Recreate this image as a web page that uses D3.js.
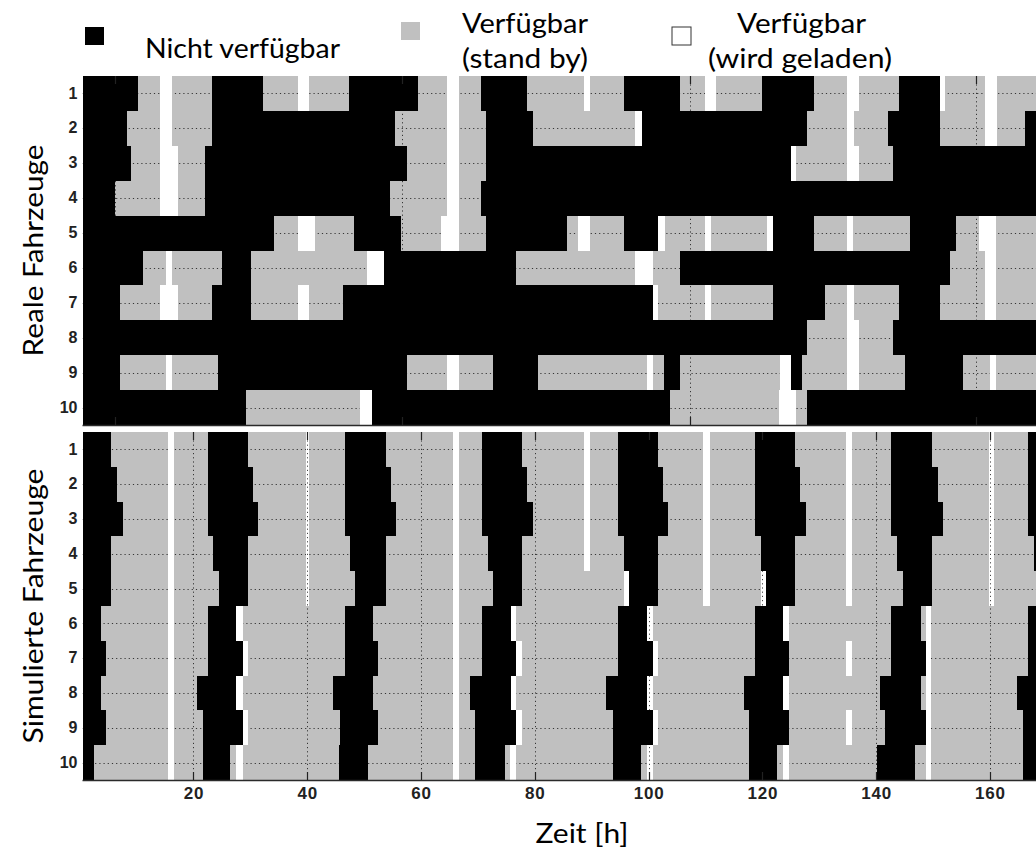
<!DOCTYPE html>
<html>
<head>
<meta charset="utf-8">
<script src="https://cdn.jsdelivr.net/npm/d3@7"></script>
<style>
  body { margin: 0; background: #fff; }
  svg { display: block; }
</style>
</head>
<body>
<script>
// ---- data (hours) ----
const timeTicks = [20, 40, 60, 80, 100, 120, 140, 160];
const vehicles = [1, 2, 3, 4, 5, 6, 7, 8, 9, 10];
const realGridHours = [6.2, 56.7, 107.3, 157.5];

// real vehicles: standby intervals per vehicle
const realStandby = [
  [[10.2, 23.3], [32.3, 47.4], [59.5, 70.5], [78.6, 95.7], [105.6, 119.9], [129.0, 144.1], [151.2, 170]],
  [[8.3, 23.3], [55.4, 71.4], [79.7, 98.8], [127.8, 142.0], [151.2, 166.2]],
  [[9.1, 22.0], [57.5, 71.4], [125.0, 142.9]],
  [[6.2, 22.0], [54.5, 70.5]],
  [[34.2, 48.2], [56.4, 71.4], [85.6, 95.7], [101.7, 121.8], [129.0, 146.0], [154.0, 170]],
  [[11.2, 25.1], [30.2, 53.5], [76.7, 105.6], [153.0, 170]],
  [[7.1, 23.3], [30.2, 46.3], [100.7, 121.8], [131.0, 144.1], [151.2, 170]],
  [[127.9, 142.9]],
  [[7.1, 24.3], [57.6, 72.6], [80.6, 102.7], [105.6, 125.0], [126.9, 145.1], [155.2, 170]],
  [[29.2, 51.3], [103.8, 127.9]]
];
// real vehicles: charging intervals per vehicle
const realCharging = [
  [[14.1, 16.3], [38.4, 40.4], [64.6, 66.6], [88.7, 89.7], [109.9, 111.9], [134.9, 137.0], [151.2, 152.1], [159.1, 161.2]],
  [[14.1, 16.3], [64.6, 66.6], [97.6, 98.8], [134.9, 136.1], [159.1, 161.2]],
  [[14.1, 17.2], [64.6, 66.6], [125.0, 126.0], [134.9, 137.0]],
  [[14.1, 17.2], [64.6, 66.6]],
  [[38.4, 41.4], [63.5, 66.6], [87.6, 89.7], [101.7, 102.9], [109.9, 110.9], [120.9, 121.8], [134.8, 136.0], [158.0, 161.1]],
  [[15.1, 16.3], [50.5, 53.5], [97.6, 100.7], [159.1, 161.1]],
  [[14.1, 17.2], [38.4, 40.4], [100.7, 101.7], [109.9, 110.9], [134.9, 136.1], [159.1, 161.1]],
  [[134.9, 137.0]],
  [[15.1, 16.3], [64.6, 66.6], [99.8, 100.7], [123.1, 125.0], [134.9, 137.0], [160.1, 161.1]],
  [[49.3, 51.3], [123.0, 125.9]]
];

// simulated vehicles: standby intervals per vehicle
const simStandby = [
  [[5.5, 22.6], [29.6, 46.6], [53.8, 70.8], [77.7, 94.7], [101.7, 118.7], [125.7, 142.7], [149.8, 166.7]],
  [[6.5, 22.6], [30.5, 46.6], [54.7, 70.8], [78.6, 94.7], [102.6, 118.7], [126.6, 142.7], [150.8, 166.7]],
  [[7.7, 22.6], [31.4, 46.6], [55.6, 70.8], [79.6, 94.7], [103.5, 118.7], [127.7, 142.7], [151.7, 166.7]],
  [[5.5, 23.5], [29.6, 47.5], [53.8, 71.7], [77.7, 95.6], [101.7, 119.7], [125.7, 143.7], [149.8, 167.7]],
  [[5.5, 24.5], [29.6, 48.4], [53.8, 72.6], [77.7, 96.6], [101.7, 120.6], [125.7, 144.7], [149.8, 170]],
  [[3.7, 22.6], [27.5, 46.6], [51.6, 70.8], [75.8, 94.7], [99.7, 118.7], [123.7, 142.7], [147.8, 166.7]],
  [[4.6, 22.6], [28.7, 46.6], [52.5, 70.8], [76.7, 94.7], [100.7, 118.7], [124.6, 142.7], [148.8, 166.7]],
  [[3.7, 20.7], [27.5, 44.6], [51.6, 68.6], [75.8, 92.6], [99.7, 116.7], [123.7, 140.7], [147.8, 164.8]],
  [[4.6, 21.6], [28.7, 45.8], [52.5, 69.5], [76.7, 93.7], [100.7, 117.7], [124.6, 141.6], [148.8, 165.8]],
  [[2.5, 21.6], [26.5, 45.6], [50.6, 69.5], [74.8, 93.7], [98.6, 117.7], [122.6, 140.1], [146.8, 165.8]]
];
// simulated vehicles: charging intervals per vehicle
const simCharging = [
  [[15.6, 16.6], [39.7, 40.3], [65.6, 66.7], [88.7, 89.7], [109.6, 110.8], [134.7, 135.7], [159.9, 160.7]],
  [[15.6, 16.6], [39.7, 40.3], [65.6, 66.7], [88.7, 89.7], [109.6, 110.8], [134.7, 135.7], [159.9, 160.7]],
  [[15.6, 16.6], [39.7, 40.3], [65.6, 66.7], [88.7, 89.7], [109.6, 110.8], [134.7, 135.7], [159.9, 160.7]],
  [[15.6, 16.6], [39.7, 40.3], [65.6, 66.7], [88.7, 89.7], [109.6, 110.8], [134.7, 135.7], [159.9, 160.7]],
  [[15.6, 16.6], [39.7, 40.3], [65.6, 66.7], [95.6, 96.6], [109.6, 110.8], [119.7, 120.6], [134.7, 135.7], [159.9, 160.7]],
  [[15.6, 16.6], [27.5, 28.7], [65.6, 66.7], [75.8, 76.7], [99.7, 100.7], [123.7, 124.6], [148.8, 149.6]],
  [[15.6, 16.6], [28.7, 29.6], [65.6, 66.7], [76.7, 77.7], [100.7, 101.7], [134.7, 135.7], [148.8, 149.6]],
  [[15.6, 16.6], [27.5, 28.7], [65.6, 66.7], [75.8, 76.7], [99.7, 100.7], [123.7, 124.6], [148.8, 149.6]],
  [[15.6, 16.6], [28.7, 29.6], [65.6, 66.7], [76.7, 77.7], [100.7, 101.7], [134.7, 135.7], [148.8, 149.6]],
  [[15.6, 16.6], [27.5, 28.7], [65.6, 66.7], [75.6, 76.7], [99.7, 100.7], [123.6, 124.6], [148.8, 149.6]]
];

const legendItems = [
  { key: "off", lines: ["Nicht verfügbar"] },
  { key: "standby", lines: ["Verfügbar", "(stand by)"] },
  { key: "charging", lines: ["Verfügbar", "(wird geladen)"] }
];

// ---- layout ----
const W = 1036, H = 851;
const COLORS = { off: "#000000", standby: "#c0c0c0", charging: "#ffffff" };
const tickFont = "'Liberation Sans', Arial, sans-serif";
const labelFont = "Lato, 'Open Sans', sans-serif";

const svg = d3.select("body").append("svg")
  .attr("width", W).attr("height", H)
  .attr("viewBox", `0 0 ${W} ${H}`);

const x = d3.scaleLinear().domain([0.5, 170]).range([82.5, 1046.8]);

const panels = [
  { top: 76, bottom: 425, standby: realStandby, charging: realCharging, grid: realGridHours, title: "Reale Fahrzeuge", titleLen: 212, showX: false },
  { top: 432, bottom: 780, standby: simStandby, charging: simCharging, grid: timeTicks, title: "Simulierte Fahrzeuge", titleLen: 275, showX: true }
];

// dotted grid lines: translucent black, so they vanish on the black blocks
const gridStroke = { color: "#000", opacity: 0.72, dash: "1.2,3" };

panels.forEach((p, pi) => {
  const y = d3.scaleBand().domain(vehicles).range([p.top, p.bottom]).padding(0);
  const g = svg.append("g").attr("class", "panel-" + pi);

  const clipId = "clip" + pi;
  svg.append("clipPath").attr("id", clipId)
    .append("rect").attr("x", x.range()[0]).attr("y", p.top)
    .attr("width", x.range()[1] - x.range()[0]).attr("height", p.bottom - p.top);
  const body = g.append("g").attr("clip-path", `url(#${clipId})`);

  // not available: background of the whole panel
  body.append("rect")
    .attr("class", "off")
    .attr("x", x.range()[0]).attr("width", x.range()[1] - x.range()[0])
    .attr("y", y(vehicles[0])).attr("height", y.bandwidth() * vehicles.length)
    .attr("fill", COLORS.off)
    .attr("shape-rendering", "crispEdges");

  // standby blocks
  const sb = p.standby.flatMap((segs, i) => segs.map(s => ({ v: vehicles[i], s })));
  body.selectAll("rect.standby").data(sb).join("rect")
    .attr("class", "standby")
    .attr("x", d => x(d.s[0])).attr("width", d => x(d.s[1]) - x(d.s[0]))
    .attr("y", d => y(d.v)).attr("height", y.bandwidth())
    .attr("fill", COLORS.standby)
    .attr("shape-rendering", "crispEdges");

  // horizontal dotted grid at each vehicle
  body.selectAll("line.hgrid").data(vehicles).join("line")
    .attr("class", "hgrid")
    .attr("x1", x.range()[0]).attr("x2", x.range()[1])
    .attr("y1", d => Math.round(y(d) + y.bandwidth() / 2) + 0.5)
    .attr("y2", d => Math.round(y(d) + y.bandwidth() / 2) + 0.5)
    .attr("stroke", gridStroke.color).attr("stroke-opacity", gridStroke.opacity)
    .attr("stroke-width", 1).attr("stroke-dasharray", gridStroke.dash);

  // charging blocks
  const ch = p.charging.flatMap((segs, i) => segs.map(s => ({ v: vehicles[i], s })));
  body.selectAll("rect.charging").data(ch).join("rect")
    .attr("class", "charging")
    .attr("x", d => x(d.s[0])).attr("width", d => x(d.s[1]) - x(d.s[0]))
    .attr("y", d => y(d.v)).attr("height", y.bandwidth())
    .attr("fill", COLORS.charging)
    .attr("shape-rendering", "crispEdges");

  // vertical dotted grid
  body.selectAll("line.vgrid").data(p.grid).join("line")
    .attr("class", "vgrid")
    .attr("x1", d => Math.round(x(d)) + 0.5).attr("x2", d => Math.round(x(d)) + 0.5)
    .attr("y1", p.top).attr("y2", p.bottom)
    .attr("stroke", gridStroke.color).attr("stroke-opacity", gridStroke.opacity)
    .attr("stroke-width", 1).attr("stroke-dasharray", gridStroke.dash);

  // tick marks on top and bottom edges
  [p.top, p.bottom].forEach((edge, k) => {
    body.selectAll("line.tick" + k).data(p.grid).join("line")
      .attr("class", "tick" + k)
      .attr("x1", d => Math.round(x(d)) + 0.5).attr("x2", d => Math.round(x(d)) + 0.5)
      .attr("y1", edge).attr("y2", k === 0 ? edge + 8 : edge - 8)
      .attr("stroke", "#222").attr("stroke-width", 1.2);
  });

  // axis line below the panel
  g.append("line")
    .attr("x1", x.range()[0]).attr("x2", W)
    .attr("y1", p.bottom + 0.5).attr("y2", p.bottom + 0.5)
    .attr("stroke", "#2a2a2a").attr("stroke-width", 1.5);

  // vehicle numbers
  const yAxis = d3.axisLeft(y).tickSize(0).tickPadding(5);
  const ya = g.append("g").attr("transform", `translate(${x.range()[0]},0)`).call(yAxis);
  ya.select(".domain").remove();
  ya.selectAll("text")
    .attr("font-family", tickFont).attr("font-size", 16).attr("font-weight", "bold")
    .attr("fill", "#222");

  // panel title
  g.append("text")
    .attr("transform", `translate(43,${(p.top + p.bottom) / 2}) rotate(-90)`)
    .attr("text-anchor", "middle")
    .attr("font-family", labelFont).attr("font-size", 27)
    .attr("textLength", p.titleLen).attr("lengthAdjust", "spacingAndGlyphs")
    .attr("fill", "#000")
    .text(p.title);

  if (p.showX) {
    const xAxis = d3.axisBottom(x).tickValues(timeTicks).tickSize(0).tickPadding(7).tickFormat(d3.format("d"));
    const xa = g.append("g").attr("transform", `translate(0,${p.bottom})`).call(xAxis);
    xa.select(".domain").remove();
    xa.selectAll("text")
      .attr("font-family", tickFont).attr("font-size", 17).attr("font-weight", "bold")
      .attr("letter-spacing", 0.8)
      .attr("fill", "#222");
  }
});

// x-axis title
svg.append("text")
  .attr("x", 582).attr("y", 843)
  .attr("text-anchor", "middle")
  .attr("font-family", labelFont).attr("font-size", 27)
  .attr("textLength", 93).attr("lengthAdjust", "spacingAndGlyphs")
  .text("Zeit [h]");

// ---- legend ----
const legendPos = {
  off: { sq: [85, 27, 19, 18], text: [[145, 58, 195]] },
  standby: { sq: [401, 22, 19, 18], text: [[462, 33, 126], [462, 68, 126]] },
  charging: { sq: [672, 27, 19, 18], text: [[737, 33, 129], [708, 68, 184]] }
};
const legend = svg.append("g").attr("class", "legend");
legendItems.forEach(item => {
  const pos = legendPos[item.key];
  legend.append("rect")
    .attr("x", pos.sq[0]).attr("y", pos.sq[1]).attr("width", pos.sq[2]).attr("height", pos.sq[3])
    .attr("fill", COLORS[item.key])
    .attr("stroke", item.key === "charging" ? "#333" : "none").attr("stroke-width", 1);
  item.lines.forEach((line, i) => {
    const t = pos.text[i];
    legend.append("text")
      .attr("x", t[0]).attr("y", t[1])
      .attr("font-family", labelFont).attr("font-size", 26)
      .attr("textLength", t[2]).attr("lengthAdjust", "spacingAndGlyphs")
      .text(line);
  });
});
</script>
</body>
</html>
